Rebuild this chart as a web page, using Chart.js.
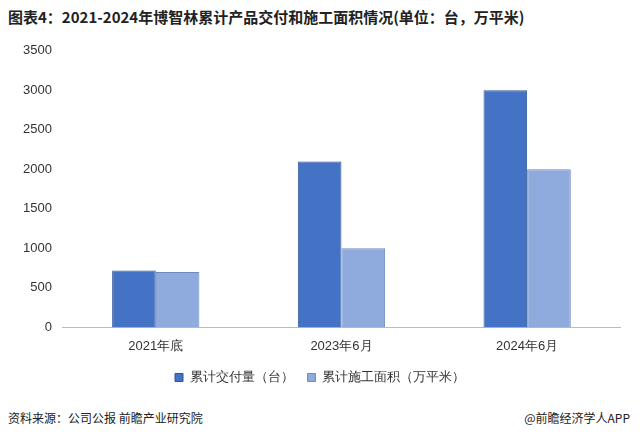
<!DOCTYPE html>
<html><head><meta charset="utf-8">
<script src="https://cdn.jsdelivr.net/npm/chart.js@4/dist/chart.umd.min.js"></script>
<style>
body{margin:0;width:640px;height:440px;background:#fff;font-family:"Noto Sans CJK SC",sans-serif;position:relative;overflow:hidden}
#title{position:absolute;left:8px;top:6px;font-size:15px;font-weight:bold;color:#222}
#wrap{position:absolute;left:20px;top:40px;width:610px;height:354px}
#src{position:absolute;left:8px;top:409px;font-size:12px;color:#222}
#brand{position:absolute;right:10px;top:409px;font-size:12px;color:#222}
</style></head><body>
<div id="title">图表4：2021-2024年博智林累计产品交付和施工面积情况(单位：台，万平米)</div>
<div id="wrap"><canvas id="c"></canvas></div>
<div id="src">资料来源：公司公报 前瞻产业研究院</div>
<div id="brand">@前瞻经济学人APP</div>
<script>
const categories = ["2021年底", "2023年6月", "2024年6月"];
const delivered = [720, 2100, 3000];
const area = [700, 1000, 2000];
const seriesNames = ["累计交付量（台）", "累计施工面积（万平米）"];

new Chart(document.getElementById("c"), {
  type: "bar",
  data: {
    labels: categories,
    datasets: [
      { label: seriesNames[0], data: delivered, backgroundColor: "#4472C4", borderColor: "#2F5597", borderWidth: 1 },
      { label: seriesNames[1], data: area, backgroundColor: "#8FAADC", borderColor: "#6F8AC0", borderWidth: 1 }
    ]
  },
  options: {
    responsive: true, maintainAspectRatio: false, animation: false,
    categoryPercentage: 0.47, barPercentage: 1,
    layout: { padding: { right: 10, bottom: 0 } },
    plugins: {
      legend: { position: "bottom", labels: { boxWidth: 8, boxHeight: 8, padding: 14, font: { size: 13 }, color: "#333" } },
      tooltip: { enabled: false }
    },
    scales: {
      x: { grid: { display: false }, border: { color: "#bbb" }, ticks: { font: { size: 13 }, color: "#333" } },
      y: { min: 0, max: 3500, ticks: { stepSize: 500, font: { size: 13 }, color: "#333", callback: v => String(v) }, grid: { display: false }, border: { display: false } }
    }
  }
});
</script>
</body></html>
